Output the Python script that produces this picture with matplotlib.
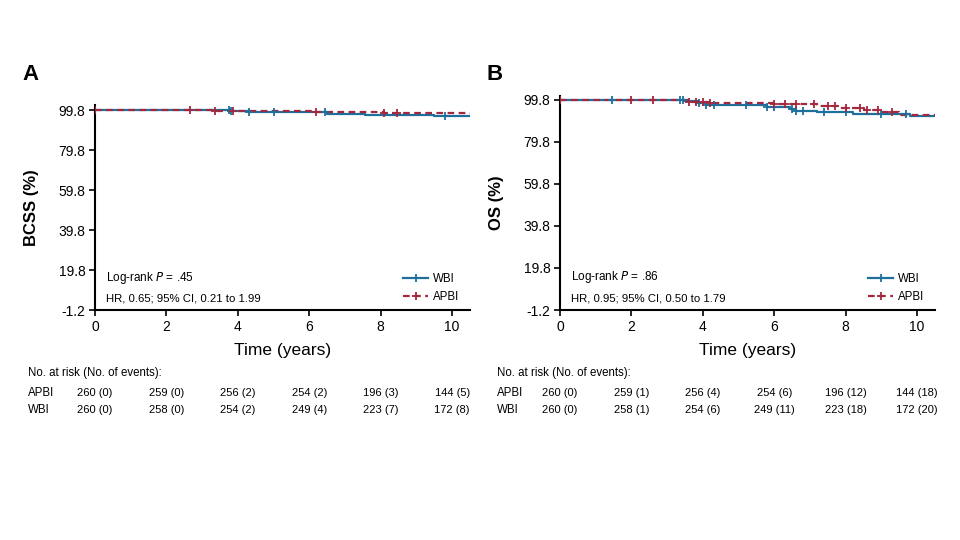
import numpy as np
import matplotlib.pyplot as plt
from matplotlib.transforms import blended_transform_factory

plt.rcParams['font.family'] = ['Liberation Sans', 'DejaVu Sans']

blue = '#1f6f9c'
red = '#a3283e'

# panel A: breast cancer specific survival (step change points)
a_wbi_t = [0, 3.8, 4.3, 5.0, 6.5, 7.56, 9.5]
a_wbi_s = [100, 99.4, 99.0, 98.6, 97.8, 97.3, 96.8]
a_wbi_cens = [3.75, 3.8, 4.3, 5.0, 6.45, 9.8]
a_apbi_t = [0, 2.66, 3.36, 6.16, 8.1, 8.46]
a_apbi_s = [100, 99.6, 99.2, 98.8, 98.4, 98.1]
a_apbi_cens = [0, 2.66, 3.36, 3.85, 6.2, 8.1, 8.46]

# panel B: overall survival
b_wbi_t = [0, 3.5, 3.9, 4.1, 5.8, 6.44, 6.6, 7.2, 8.2, 9.8]
b_wbi_s = [100, 99.3, 98.5, 97.6, 96.3, 95.3, 94.7, 94.0, 93.3, 92.4]
b_wbi_cens = [1.46, 3.35, 3.45, 3.9, 4.1, 4.3, 5.2, 5.8, 6.0, 6.5, 6.6, 6.8, 7.4, 8.0, 9.0, 9.7]
b_apbi_t = [0, 2.0, 3.6, 4.2, 6.0, 7.2, 7.8, 8.5, 9.0, 9.5]
b_apbi_s = [100, 99.6, 99.0, 98.5, 97.7, 96.8, 95.8, 95.0, 94.0, 92.7]
b_apbi_cens = [0, 2.0, 2.6, 3.6, 3.8, 4.0, 4.2, 6.0, 6.3, 6.6, 7.1, 7.5, 7.7, 8.0, 8.4, 8.6, 8.9, 9.3]

t_end = 10.5
x_ticks = [0, 2, 4, 6, 8, 10]
y_ticks = [-0.2, 19.8, 39.8, 59.8, 79.8, 99.8]
y_labels = ['-1.2', '19.8', '39.8', '59.8', '79.8', '99.8']

groups = ['APBI', 'WBI']
a_risk = {'APBI': ['260 (0)', '259 (0)', '256 (2)', '254 (2)', '196 (3)', '144 (5)'],
          'WBI': ['260 (0)', '258 (0)', '254 (2)', '249 (4)', '223 (7)', '172 (8)']}
b_risk = {'APBI': ['260 (0)', '259 (1)', '256 (4)', '254 (6)', '196 (12)', '144 (18)'],
          'WBI': ['260 (0)', '258 (1)', '254 (6)', '249 (11)', '223 (18)', '172 (20)']}


def km(ax, t, s, cens, color, ls, label):
    tt = np.append(t, t_end)
    ss = np.append(s, s[-1])
    ax.step(tt, ss, where='post', color=color, ls=ls, lw=1.6, zorder=3)
    idx = np.searchsorted(t, cens, side='right') - 1
    ax.plot(cens, np.array(s)[idx], ls='none', marker='+', ms=6, mew=1.3,
            color=color, zorder=4)
    ax.plot([], [], color=color, ls=ls, lw=1.6, marker='+', ms=6, mew=1.3,
            label=label)


fig = plt.figure(figsize=(9.6, 5.4), dpi=100)
axA = fig.add_axes([95 / 960, 230 / 540, 375 / 960, 205 / 540])
axB = fig.add_axes([560 / 960, 230 / 540, 375 / 960, 214 / 540])

panels = [
    (axA, 'A', 22, 'BCSS (%)', 102.3, a_wbi_t, a_wbi_s, a_wbi_cens, a_apbi_t, a_apbi_s, a_apbi_cens,
     '.45', 'HR, 0.65; 95% CI, 0.21 to 1.99', a_risk, 28 / 960),
    (axB, 'B', 487, 'OS (%)', 101.7, b_wbi_t, b_wbi_s, b_wbi_cens, b_apbi_t, b_apbi_s, b_apbi_cens,
     '.86', 'HR, 0.95; 95% CI, 0.50 to 1.79', b_risk, 497 / 960),
]

for (ax, letter, lx, ylab, ytop, wt, ws, wc, at, as_, ac, pval, hr, risk, xl) in panels:
    km(ax, wt, ws, wc, blue, '-', 'WBI')
    km(ax, at, as_, ac, red, (0, (3, 2)), 'APBI')
    ax.set_xlim(0, t_end)
    ax.set_ylim(-0.2, ytop)
    ax.set_xticks(x_ticks)
    ax.set_yticks(y_ticks)
    ax.set_yticklabels(y_labels)
    for sp in ['top', 'right']:
        ax.spines[sp].set_visible(False)
    for sp in ['left', 'bottom']:
        ax.spines[sp].set_linewidth(1.5)
    ax.tick_params(direction='out', length=4, width=1.2, labelsize=10, pad=3)
    ax.set_xlabel('Time (years)', fontsize=12.5, labelpad=7)
    ax.set_ylabel(ylab, fontsize=12, labelpad=14, fontweight='bold')
    ax.text(0.03, 0.14, 'Log-rank $\\it{P}$ = ' + pval, transform=ax.transAxes, fontsize=8.5)
    ax.text(0.03, 0.04, hr, transform=ax.transAxes, fontsize=8.2)
    ax.legend(loc='lower right', bbox_to_anchor=(0.99, 0.0), frameon=False, fontsize=8.3,
              handlelength=2.2, handletextpad=0.4, numpoints=1, labelspacing=0.5,
              borderaxespad=0.2)
    fig.text(lx / 960, 1 - 75 / 540, letter, fontsize=16, fontweight='bold', va='center')

    tr = blended_transform_factory(ax.transData, fig.transFigure)
    fig.text(xl, 1 - 373 / 540, 'No. at risk (No. of events):', fontsize=8.3, va='center')
    for g, yy in zip(groups, [393, 410]):
        fig.text(xl, 1 - yy / 540, g, fontsize=8.3, va='center')
        for xv, val in zip(x_ticks, risk[g]):
            ax.text(xv, 1 - yy / 540, val, transform=tr, fontsize=8, ha='center', va='center')

fig.savefig('out.png', dpi=100)
